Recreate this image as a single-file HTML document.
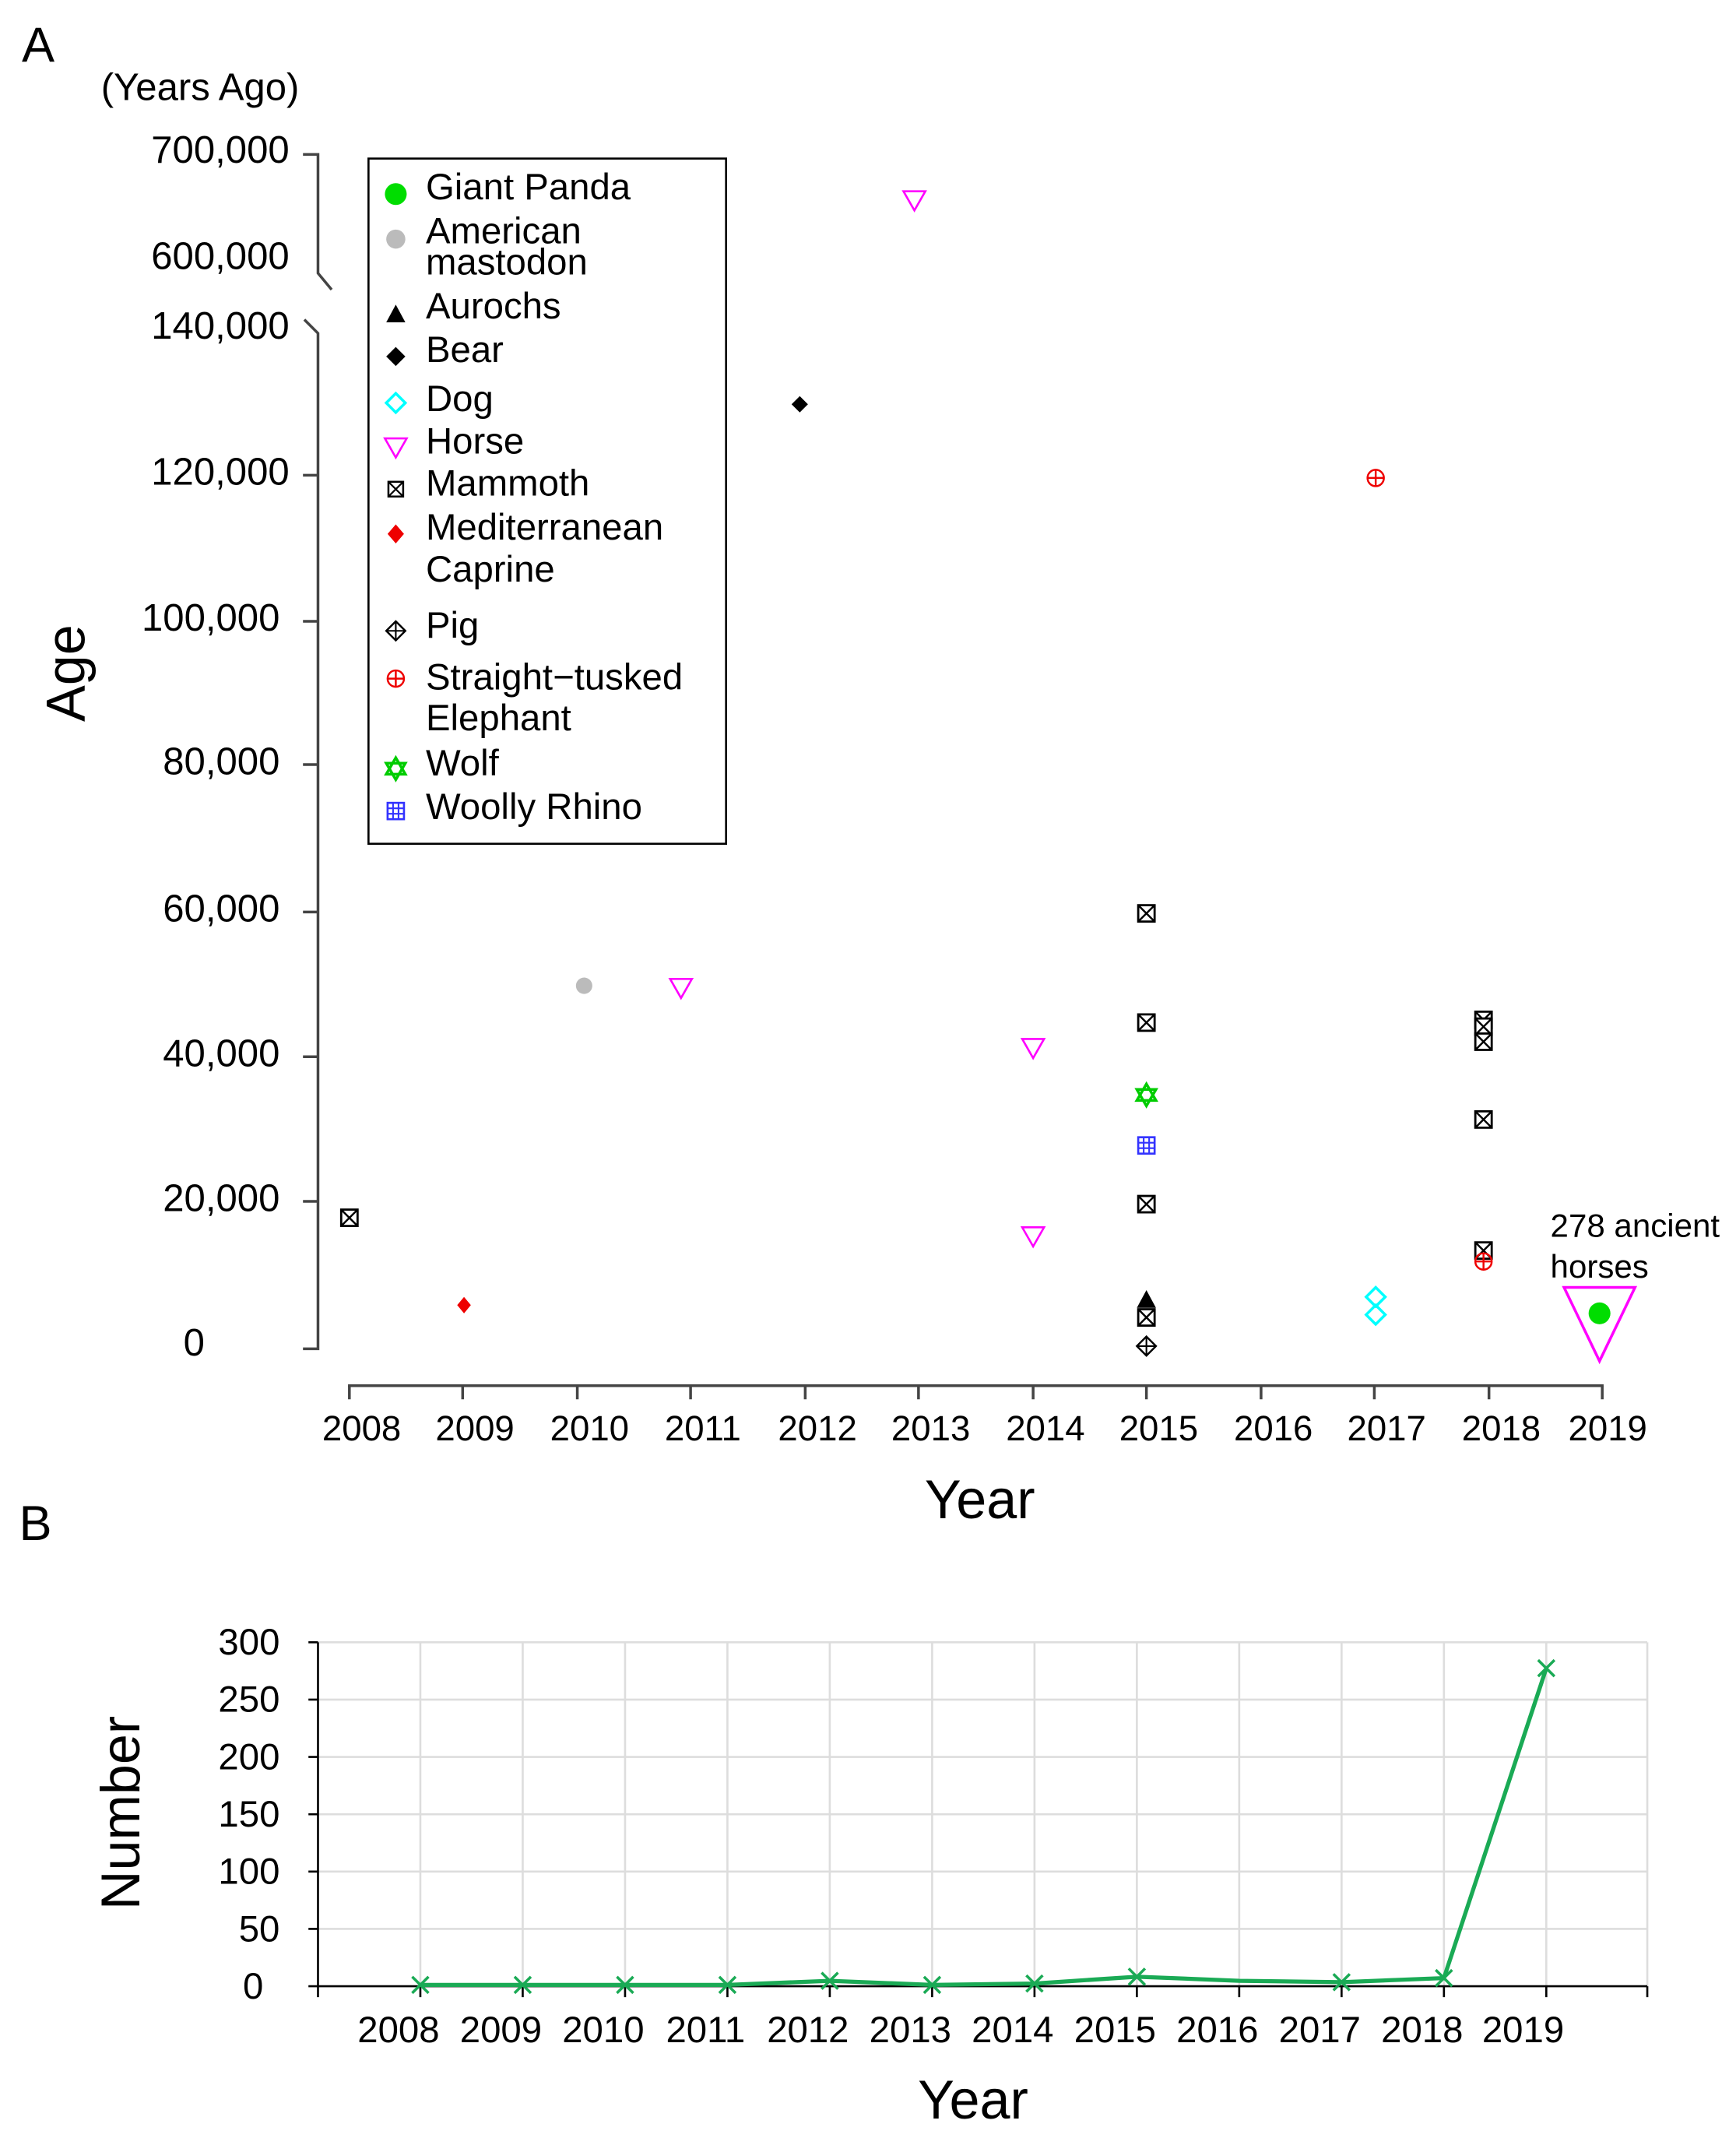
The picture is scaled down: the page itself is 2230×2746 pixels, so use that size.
<!DOCTYPE html>
<html><head><meta charset="utf-8"><style>html,body{margin:0;padding:0;background:#fff}svg{display:block}</style></head>
<body>
<svg width="2230" height="2746" viewBox="0 0 1272 1566" xmlns="http://www.w3.org/2000/svg" font-family="Liberation Sans, Arial, sans-serif">
<defs>
<g id="mam"><rect x="-6" y="-6" width="12" height="12" fill="#fff" stroke="#000" stroke-width="1.6"/><path d="M-6,-6L6,6M6,-6L-6,6" stroke="#000" stroke-width="1.4"/></g>
<g id="hor"><path d="M-8,-6L8,-6L0,8Z" fill="none" stroke="#f0f" stroke-width="1.5"/></g>
<g id="ele"><circle r="6" fill="none" stroke="#e00" stroke-width="1.4"/><path d="M-6,0H6M0,-6V6" stroke="#e00" stroke-width="1.4"/></g>
<g id="dog"><path d="M0,-7L7,0L0,7L-7,0Z" fill="none" stroke="#0ff" stroke-width="2"/></g>
<g id="pig"><path d="M0,-7L7,0L0,7L-7,0Z" fill="none" stroke="#000" stroke-width="1.4"/><path d="M-7,0H7M0,-7V7" stroke="#000" stroke-width="1.2"/></g>
<g id="wolf"><path d="M-7,-4H7L0,8Z M-7,4H7L0,-8Z" fill="none" stroke="#0c0" stroke-width="2"/></g>
<g id="rhi"><rect x="-6" y="-6" width="12" height="12" fill="none" stroke="#33f" stroke-width="1.5"/><path d="M-6,-2H6M-6,2H6M-2,-6V6M2,-6V6" stroke="#33f" stroke-width="1.2"/></g>
</defs>
<text x="16" y="45" font-size="36">A</text>
<text x="74" y="73" font-size="28">(Years Ago)</text>
<g font-size="28" text-anchor="end">
<text x="212" y="119">700,000</text><text x="212" y="197">600,000</text><text x="212" y="248">140,000</text>
<text x="212" y="355">120,000</text><text x="205" y="462">100,000</text><text x="205" y="567">80,000</text>
<text x="205" y="675">60,000</text><text x="205" y="781">40,000</text><text x="205" y="887">20,000</text><text x="150" y="993">0</text>
</g>
<g stroke="#444" stroke-width="2" fill="none">
<path d="M222,113H233V200L243,212"/><path d="M223,234L233,244V988H222"/>
<path d="M222,348H233M222,455H233M222,560H233M222,668H233M222,774H233M222,880H233"/>
<path d="M255,1015H1175"/>
<path d="M256,1015v10M339,1015v10M423,1015v10M506,1015v10M590,1015v10M673,1015v10M757,1015v10M840,1015v10M924,1015v10M1007,1015v10M1091,1015v10M1174,1015v10"/>
</g>
<g font-size="26" text-anchor="middle">
<text x="265" y="1055">2008</text><text x="348" y="1055">2009</text><text x="432" y="1055">2010</text><text x="515" y="1055">2011</text><text x="599" y="1055">2012</text><text x="682" y="1055">2013</text><text x="766" y="1055">2014</text><text x="849" y="1055">2015</text><text x="933" y="1055">2016</text><text x="1016" y="1055">2017</text><text x="1100" y="1055">2018</text><text x="1178" y="1055">2019</text>
</g>
<text x="718" y="1112" font-size="40" text-anchor="middle">Year</text>
<text transform="translate(62,493) rotate(-90)" font-size="40" text-anchor="middle">Age</text>
<rect x="270" y="116" width="262" height="502" fill="#fff" stroke="#000" stroke-width="1.5"/>
<g font-size="27">
<circle cx="290" cy="142" r="8" fill="#0d0"/><text x="312" y="146">Giant Panda</text>
<circle cx="290" cy="175" r="7" fill="#bbb"/><text x="312" y="178">American</text><text x="312" y="201">mastodon</text>
<path d="M283,236H297L290,223Z"/><text x="312" y="233">Aurochs</text>
<path d="M290,254L297,261L290,268L283,261Z"/><text x="312" y="265">Bear</text>
<use href="#dog" x="290" y="295"/><text x="312" y="301">Dog</text>
<use href="#hor" x="290" y="327"/><text x="312" y="332">Horse</text>
<use href="#mam" x="290" y="358" transform="translate(29,36) scale(0.9)"/><text x="312" y="363">Mammoth</text>
<path d="M290,384L296,391L290,398L284,391Z" fill="#e00"/><text x="312" y="395">Mediterranean</text><text x="312" y="426">Caprine</text>
<use href="#pig" x="290" y="462"/><text x="312" y="467">Pig</text>
<use href="#ele" x="290" y="497"/><text x="312" y="505">Straight−tusked</text><text x="312" y="535">Elephant</text>
<use href="#wolf" x="290" y="563"/><text x="312" y="568">Wolf</text>
<use href="#rhi" x="290" y="594"/><text x="312" y="600">Woolly Rhino</text>
</g>
<use href="#mam" x="256" y="892"/>
<path d="M340,950L345,956L340,962L335,956Z" fill="#e00"/>
<circle cx="428" cy="722" r="6" fill="#bbb"/>
<use href="#hor" x="499" y="723"/>
<path d="M586,290L592,296L586,302L580,296Z"/>
<use href="#hor" x="670" y="146"/>
<use href="#hor" x="757" y="767"/><use href="#hor" x="757" y="905"/>
<use href="#mam" x="840" y="669"/><use href="#mam" x="840" y="749"/><use href="#mam" x="840" y="882"/>
<path d="M833,958H847L840,945Z"/>
<use href="#mam" x="840" y="965"/>
<use href="#wolf" x="840" y="802"/><use href="#rhi" x="840" y="839"/><use href="#pig" x="840" y="986"/>
<use href="#ele" x="1008" y="350"/>
<use href="#dog" x="1008" y="950"/><use href="#dog" x="1008" y="963"/>
<use href="#mam" x="1087" y="747"/><use href="#mam" x="1087" y="752"/><use href="#mam" x="1087" y="763"/><use href="#mam" x="1087" y="820"/><use href="#mam" x="1087" y="916"/>
<use href="#ele" x="1087" y="924"/>
<path d="M1146,943H1198L1172,997Z" fill="none" stroke="#f0f" stroke-width="2"/>
<circle cx="1172" cy="962" r="8" fill="#0d0"/>
<text x="1136" y="906" font-size="24">278 ancient</text><text x="1136" y="936" font-size="24">horses</text>
<text x="14" y="1128" font-size="36">B</text>
<g stroke="#ddd" stroke-width="1.5">
<path d="M233,1203H1207M233,1245H1207M233,1287H1207M233,1329H1207M233,1371H1207M233,1413H1207"/>
<path d="M308,1203V1455M383,1203V1455M458,1203V1455M533,1203V1455M608,1203V1455M683,1203V1455M758,1203V1455M833,1203V1455M908,1203V1455M983,1203V1455M1058,1203V1455M1133,1203V1455M1207,1203V1455"/>
</g>
<g stroke="#000" stroke-width="1.5" fill="none">
<path d="M233,1203V1455H1207"/>
<path d="M226,1203H233M226,1245H233M226,1287H233M226,1329H233M226,1371H233M226,1413H233M226,1455H233"/>
<path d="M233,1455v8M308,1455v8M383,1455v8M458,1455v8M533,1455v8M608,1455v8M683,1455v8M758,1455v8M833,1455v8M908,1455v8M983,1455v8M1058,1455v8M1133,1455v8M1207,1455v8"/>
</g>
<g font-size="27" text-anchor="end">
<text x="205" y="1212">300</text><text x="205" y="1254">250</text><text x="205" y="1296">200</text><text x="205" y="1338">150</text><text x="205" y="1380">100</text><text x="205" y="1422">50</text><text x="193" y="1464">0</text>
</g>
<g font-size="27" text-anchor="middle">
<text x="292" y="1496">2008</text><text x="367" y="1496">2009</text><text x="442" y="1496">2010</text><text x="517" y="1496">2011</text><text x="592" y="1496">2012</text><text x="667" y="1496">2013</text><text x="742" y="1496">2014</text><text x="817" y="1496">2015</text><text x="892" y="1496">2016</text><text x="967" y="1496">2017</text><text x="1042" y="1496">2018</text><text x="1116" y="1496">2019</text>
</g>
<text x="713" y="1552" font-size="40" text-anchor="middle">Year</text>
<text transform="translate(102,1328) rotate(-90)" font-size="40" text-anchor="middle">Number</text>
<polyline points="308,1454 383,1454 458,1454 533,1454 608,1451 683,1454 758,1453 833,1448 908,1451 983,1452 1058,1449 1133,1222" fill="none" stroke="#1aaa55" stroke-width="3"/>
<g stroke="#1aaa55" stroke-width="2">
<path d="M302,1448l12,12M314,1448l-12,12M377,1448l12,12M389,1448l-12,12M452,1448l12,12M464,1448l-12,12M527,1448l12,12M539,1448l-12,12M602,1445l12,12M614,1445l-12,12M677,1448l12,12M689,1448l-12,12M752,1447l12,12M764,1447l-12,12M827,1442l12,12M839,1442l-12,12M977,1446l12,12M989,1446l-12,12M1052,1443l12,12M1064,1443l-12,12M1127,1216l12,12M1139,1216l-12,12"/>
</g>
</svg>
</body></html>
